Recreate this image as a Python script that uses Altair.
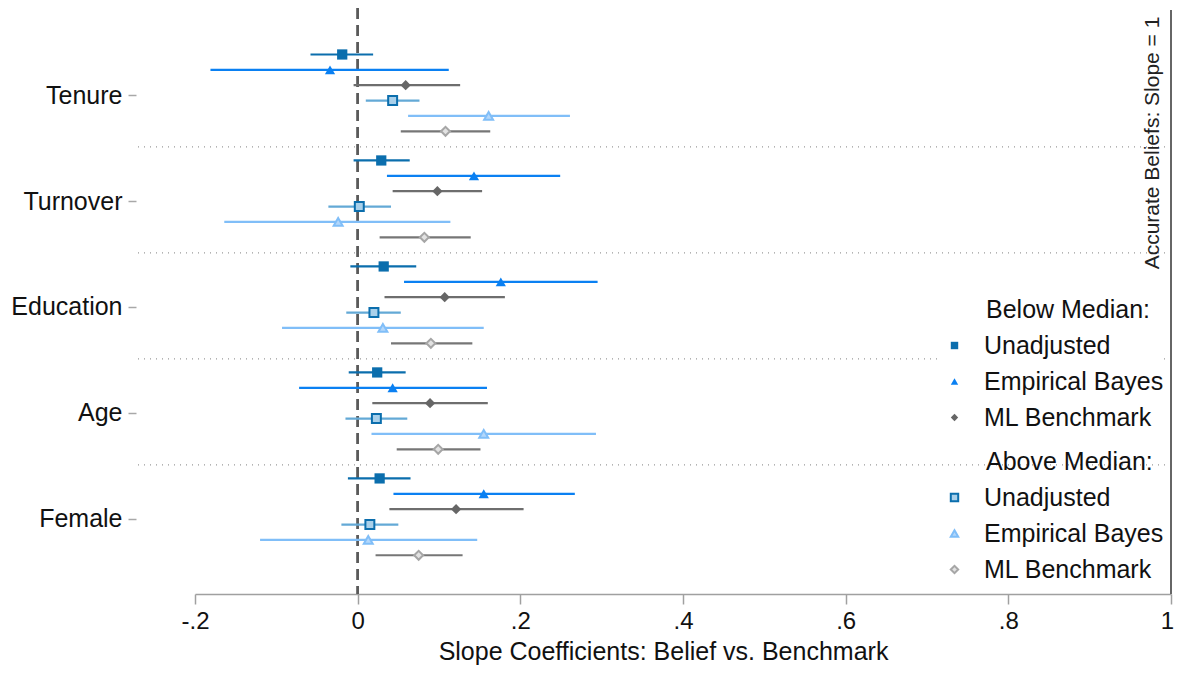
import altair as alt
import pandas as pd

categories = ["Tenure", "Turnover", "Education", "Age", "Female"]
estimators = ["Unadjusted", "Empirical Bayes", "ML Benchmark"]
legend_titles = ["Below Median:", "Above Median:"]

below_unadj_est = [-0.019, 0.029, 0.032, 0.024, 0.027]
below_unadj_lo = [-0.058, -0.005, -0.009, -0.011, -0.012]
below_unadj_hi = [0.019, 0.064, 0.072, 0.059, 0.065]

below_eb_est = [-0.034, 0.143, 0.176, 0.043, 0.155]
below_eb_lo = [-0.181, 0.036, 0.057, -0.072, 0.044]
below_eb_hi = [0.112, 0.249, 0.295, 0.159, 0.267]

below_ml_est = [0.059, 0.098, 0.107, 0.089, 0.121]
below_ml_lo = [-0.005, 0.043, 0.033, 0.018, 0.039]
below_ml_hi = [0.126, 0.153, 0.181, 0.160, 0.204]

above_unadj_est = [0.043, 0.002, 0.020, 0.023, 0.015]
above_unadj_lo = [0.010, -0.036, -0.014, -0.015, -0.020]
above_unadj_hi = [0.076, 0.041, 0.053, 0.061, 0.050]

above_eb_est = [0.161, -0.024, 0.031, 0.155, 0.013]
above_eb_lo = [0.062, -0.164, -0.093, 0.017, -0.120]
above_eb_hi = [0.261, 0.114, 0.155, 0.293, 0.147]

above_ml_est = [0.108, 0.082, 0.090, 0.099, 0.075]
above_ml_lo = [0.053, 0.027, 0.041, 0.048, 0.022]
above_ml_hi = [0.163, 0.139, 0.141, 0.151, 0.129]

series_data = [
    ("Below", "Unadjusted", below_unadj_est, below_unadj_lo, below_unadj_hi),
    ("Below", "Empirical Bayes", below_eb_est, below_eb_lo, below_eb_hi),
    ("Below", "ML Benchmark", below_ml_est, below_ml_lo, below_ml_hi),
    ("Above", "Unadjusted", above_unadj_est, above_unadj_lo, above_unadj_hi),
    ("Above", "Empirical Bayes", above_eb_est, above_eb_lo, above_eb_hi),
    ("Above", "ML Benchmark", above_ml_est, above_ml_lo, above_ml_hi),
]

rows = []
for k, (grp, est_name, est, lo, hi) in enumerate(series_data):
    for i, cat in enumerate(categories):
        rows.append({
            "category": cat, "cat_idx": i, "row": k, "group": grp,
            "estimator": est_name, "series": grp + " " + est_name,
            "est": est[i], "lo": lo[i], "hi": hi[i],
        })
df = pd.DataFrame(rows)
df["ypos"] = df["cat_idx"] + (df["row"] - 2.5) * 0.145 - 0.02

separators = pd.DataFrame({"sep": [0.49, 1.49, 2.49, 3.49]})

W, H = 976, 586
PL, PR = 187, 3
FONT = "Liberation Sans"

series_order = [g + " " + e for g, e, *_ in series_data]
line_colors = ["#0b6ead", "#0a80f2", "#6e6e6e", "#63a9d6", "#80bef8", "#767676"]

xscale = alt.Scale(domain=[-0.2, 1], nice=False, zero=False)
yscale = alt.Scale(domain=[-0.821, 4.708], reverse=True, nice=False, zero=False)

label_expr = "[" + ",".join("'%s'" % c for c in categories) + "][datum.value]"

xaxis = alt.Axis(
    values=[-0.2, 0, 0.2, 0.4, 0.6, 0.8, 1.0],
    labelExpr="datum.value == 0 ? '0' : (abs(datum.value - 1) < 1e-9 ? '1' : (datum.value < 0 ? '-' : '') + '.' + format(round(abs(datum.value) * 10), 'd'))",
    labelFlush=False,
    labelOffset={"condition": {"test": "datum.value >= 0.99", "value": -4}, "value": 0},
    title="Slope Coefficients: Belief vs. Benchmark",
    grid=False, domainColor="#a0a0a0", domainWidth=1.5, tickColor="#a0a0a0",
    tickSize=10, tickWidth=1.5, labelFontSize=24, labelColor="#111111",
    labelPadding=5, titleFontSize=25, titleFontWeight="normal", titleColor="#111111",
    titlePadding=6, titleX=468,
)
yaxis = alt.Axis(
    values=[0, 1, 2, 3, 4], labelExpr=label_expr, title=None, grid=False,
    domain=False, tickColor="#a8a8a8", tickSize=8, tickWidth=1.5, offset=59,
    labelFontSize=25, labelColor="#111111", labelPadding=6,
)

base = alt.Chart(df)

sep = alt.Chart(separators).mark_rule(color="#9a9a9a", strokeWidth=1.3, strokeDash=[1, 5]).encode(
    y=alt.Y("sep:Q", scale=yscale, axis=yaxis),
    x=alt.value(-57), x2=alt.value(W + PR),
)

zero_line = alt.Chart(separators).mark_rule(color="#5a5a5a", strokeWidth=2, strokeDash=[11, 6]).encode(
    x=alt.datum(0, scale=xscale), y=alt.value(0), y2=alt.value(H),
)
one_line = alt.Chart(separators).mark_rule(color="#666666", strokeWidth=1.5).encode(
    x=alt.datum(1, scale=xscale), y=alt.value(2), y2=alt.value(H),
)

ci = base.mark_rule(strokeWidth=2.2).encode(
    x=alt.X("lo:Q", scale=xscale, axis=xaxis),
    x2="hi:Q",
    y=alt.Y("ypos:Q", scale=yscale, axis=yaxis),
    color=alt.Color("series:N", scale=alt.Scale(domain=series_order, range=line_colors), legend=None),
)

legend_common = dict(
    orient="none", title=None,
    labelFontSize=25, labelColor="#111111", symbolSize=55, rowPadding=10,
    labelOffset=17, labelLimit=400, fillColor="white", padding=0, labelFont=FONT,
)
leg_below = alt.Legend(legendX=747, legendY=325, **legend_common)
leg_above = alt.Legend(legendX=747, legendY=477, symbolStrokeWidth=2, **legend_common)

pts_below = base.transform_filter(alt.datum.group == "Below").mark_point(
    filled=True, size=105, opacity=1
).encode(
    x=alt.X("est:Q", scale=xscale, axis=xaxis),
    y=alt.Y("ypos:Q", scale=yscale, axis=yaxis),
    shape=alt.Shape("estimator:N", scale=alt.Scale(domain=estimators, range=["square", "triangle-up", "diamond"]), legend=leg_below),
    color=alt.Color("estimator:N", scale=alt.Scale(domain=estimators, range=["#0b6ead", "#0a80f2", "#666666"]), legend=leg_below),
)

pts_above = base.transform_filter(alt.datum.group == "Above").mark_point(
    filled=False, size=80, opacity=1, strokeWidth=2
).encode(
    x=alt.X("est:Q", scale=xscale, axis=xaxis),
    y=alt.Y("ypos:Q", scale=yscale, axis=yaxis),
    shape=alt.Shape("estimator:N", scale=alt.Scale(domain=estimators, range=["square", "triangle-up", "diamond"]), legend=leg_above),
    stroke=alt.Stroke("estimator:N", scale=alt.Scale(domain=estimators, range=["#0b6ead", "#80bef8", "#a6a6a6"]), legend=leg_above),
    fill=alt.Fill("estimator:N", scale=alt.Scale(domain=estimators, range=["#a9d0ea", "#b3d7fb", "#e2e2e2"]), legend=leg_above),
)

note = alt.Chart(separators.head(1)).mark_text(
    angle=270, fontSize=21, color="#222222", align="center", baseline="middle", font=FONT
).encode(
    x=alt.value(W - 18), y=alt.value(135), text=alt.value("Accurate Beliefs: Slope = 1"),
)

title_below = alt.Chart(separators.head(1)).mark_text(
    fontSize=25, color="#111111", align="left", baseline="middle", font=FONT
).encode(x=alt.value(791), y=alt.value(302), text=alt.value(legend_titles[0]))
title_above = alt.Chart(separators.head(1)).mark_text(
    fontSize=25, color="#111111", align="left", baseline="middle", font=FONT
).encode(x=alt.value(791), y=alt.value(454), text=alt.value(legend_titles[1]))

chart = alt.layer(sep, zero_line, one_line, ci, pts_below, pts_above, note, title_below, title_above).resolve_scale(
    color="independent", shape="independent", fill="independent", stroke="independent"
).properties(
    width=W, height=H,
    autosize=alt.AutoSizeParams(type="none"),
    padding={"left": PL, "top": 0, "right": PR, "bottom": 71},
).configure(font=FONT).configure_view(stroke=None)

chart.save("out.html", embed_options={"renderer": "svg", "actions": False})
